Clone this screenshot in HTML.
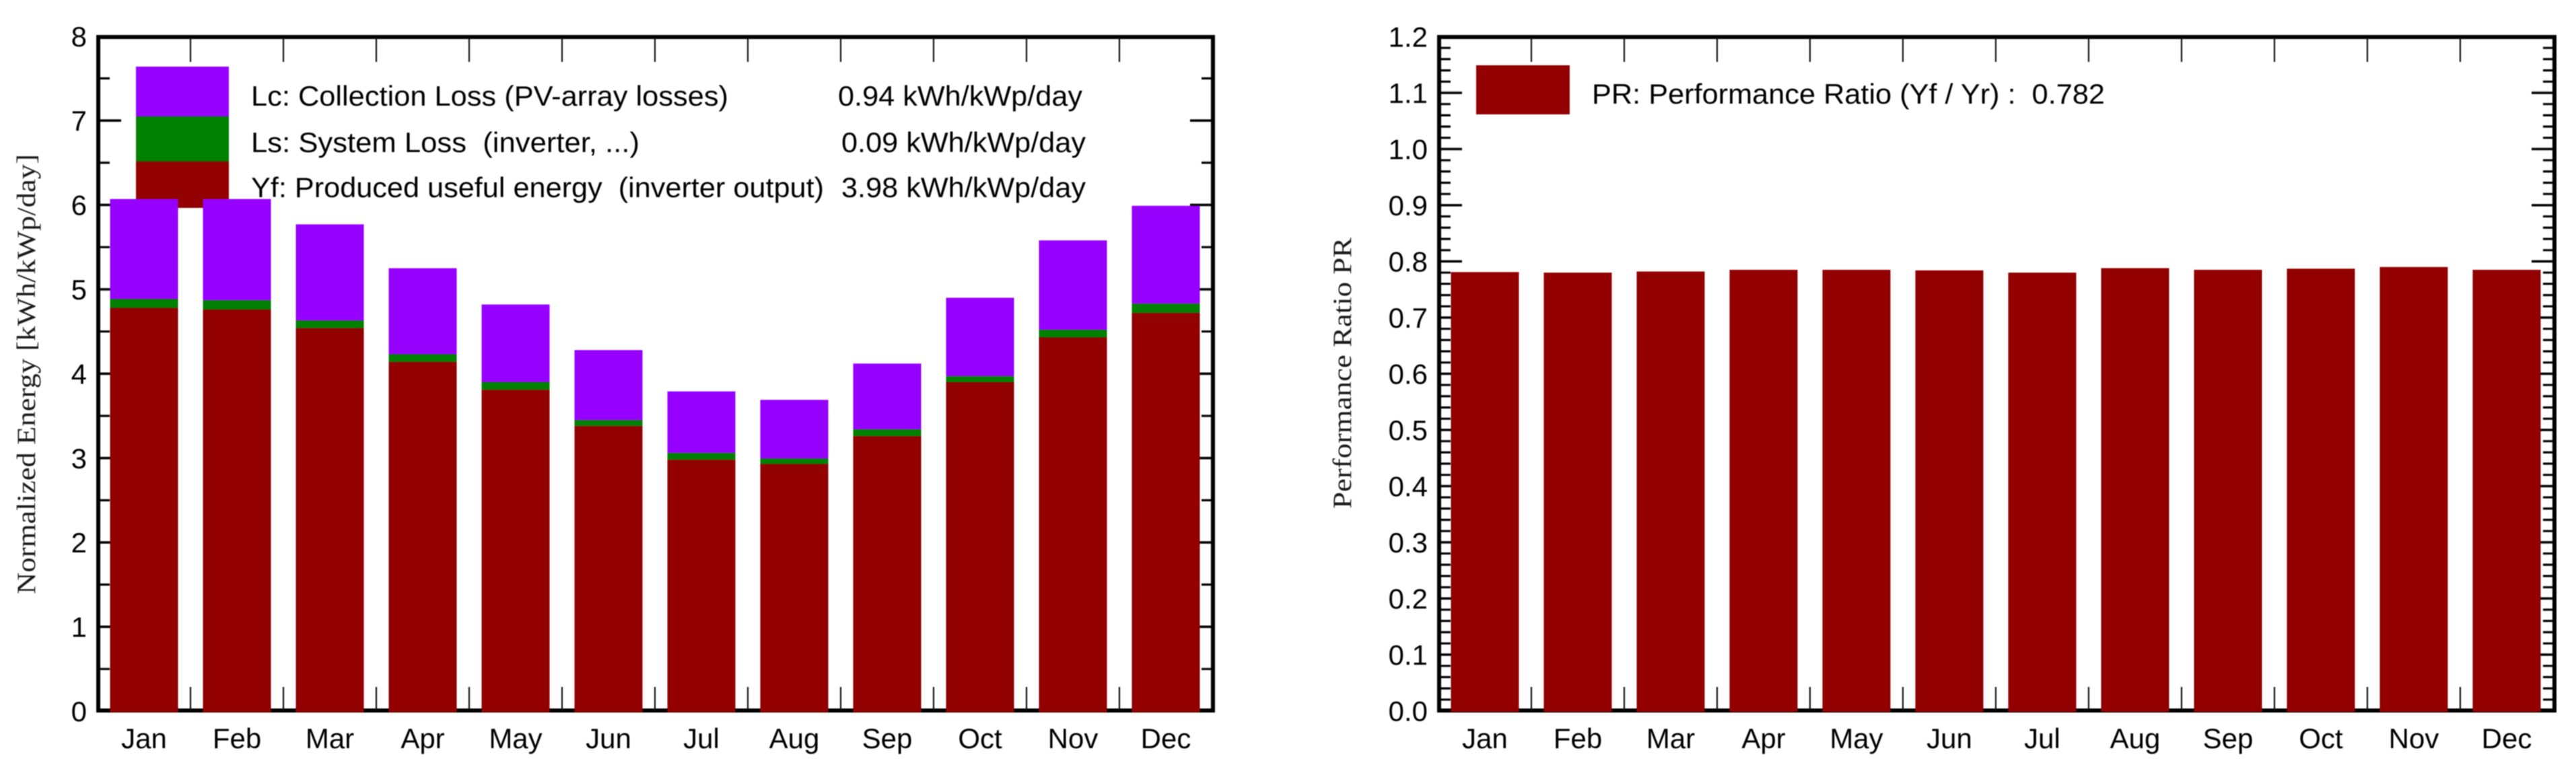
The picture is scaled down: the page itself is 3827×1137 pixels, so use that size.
<!DOCTYPE html>
<html lang="en">
<head>
<meta charset="utf-8">
<title>Normalized Energy and Performance Ratio</title>
<style>
html,body{margin:0;padding:0;background:#fff;width:3827px;height:1137px;overflow:hidden}
svg{display:block;filter:blur(0.7px)}
text{font-family:"Liberation Sans",Arial,sans-serif;fill:#000}
.serif{font-family:"Liberation Serif","Times New Roman",serif;fill:#1a1a1a}
</style>
</head>
<body>
<svg id="chart" xmlns="http://www.w3.org/2000/svg" width="3827" height="1137" viewBox="0 0 3827 1137">
  <rect x="0" y="0" width="3827" height="1137" fill="#fff"/>

  <g id="left-chart">
    <text class="serif" transform="translate(52,883) rotate(-90)" font-size="39" textLength="654" lengthAdjust="spacingAndGlyphs">Normalized Energy [kWh/kWp/day]</text>
    <g id="left-axes"></g>
    <g>
      <rect x="202" y="99" width="138" height="75" fill="#9600ff"/>
      <rect x="202" y="173" width="138" height="68" fill="#008000"/>
      <rect x="202" y="240" width="138" height="69" fill="#930000"/>
      <text x="373" y="157" font-size="42" textLength="709" lengthAdjust="spacingAndGlyphs">Lc: Collection Loss (PV-array losses)</text>
      <text x="1245" y="157" font-size="42" textLength="363" lengthAdjust="spacingAndGlyphs">0.94 kWh/kWp/day</text>
      <text x="373" y="226" font-size="42" textLength="577" lengthAdjust="spacingAndGlyphs" xml:space="preserve">Ls: System Loss  (inverter, ...)</text>
      <text x="1250" y="226" font-size="42" textLength="363" lengthAdjust="spacingAndGlyphs">0.09 kWh/kWp/day</text>
      <text x="373" y="293" font-size="42" textLength="851" lengthAdjust="spacingAndGlyphs" xml:space="preserve">Yf: Produced useful energy  (inverter output)</text>
      <text x="1250" y="293" font-size="42" textLength="363" lengthAdjust="spacingAndGlyphs">3.98 kWh/kWp/day</text>
    </g>
    <g id="left-bars"></g>
    <g id="left-labels"></g>
  </g>

  <g id="right-chart">
    <text class="serif" transform="translate(2007,756) rotate(-90)" font-size="39" textLength="403" lengthAdjust="spacingAndGlyphs">Performance Ratio PR</text>
    <g id="right-axes"></g>
    <g>
      <rect x="2193" y="97" width="139" height="73" fill="#930000"/>
      <text x="2365" y="154" font-size="42" textLength="762" lengthAdjust="spacingAndGlyphs" xml:space="preserve">PR: Performance Ratio (Yf / Yr) :  0.782</text>
    </g>
    <g id="right-bars"></g>
    <g id="right-labels"></g>
  </g>
</svg>

<script>
const categories = ['Jan','Feb','Mar','Apr','May','Jun','Jul','Aug','Sep','Oct','Nov','Dec'];
const yfValues = [4.78,4.76,4.54,4.14,3.81,3.38,2.98,2.93,3.26,3.90,4.43,4.72];
const lsValues = [0.105,0.11,0.09,0.09,0.09,0.07,0.08,0.065,0.08,0.07,0.09,0.11];
const lcValues = [1.185,1.20,1.14,1.02,0.92,0.83,0.73,0.695,0.78,0.93,1.06,1.16];
const prValues = [0.781,0.780,0.782,0.785,0.785,0.784,0.780,0.788,0.785,0.787,0.790,0.785];
const energyTickLabels = ['0','1','2','3','4','5','6','7','8'];
const prTickLabels = ['0.0','0.1','0.2','0.3','0.4','0.5','0.6','0.7','0.8','0.9','1.0','1.1','1.2'];

const NS = 'http://www.w3.org/2000/svg';

function make(tag, attrs, parent) {
  const el = document.createElementNS(NS, tag);
  for (const k in attrs) el.setAttribute(k, attrs[k]);
  parent.appendChild(el);
  return el;
}

const energyPanel = {left:146, right:1802, top:55, bottom:1056, base:1057, unit:125.4, bandStart:145, band:138};
const prPanel = {left:2138, right:3795, top:55, bottom:1056, base:1056.5, unit:835, bandStart:2137, band:138};

function yScale(panel, v) { return panel.base - v * panel.unit; }
function xCenter(panel, i) { return panel.bandStart + panel.band * (i + 0.5); }
function xEdge(panel, i) { return panel.bandStart + panel.band * i; }

const BAR_WIDTH = 101;

function drawAxes(panel, group, tickLabels, minorPerMajor, majorStep, labelGroup, prefix) {
  const frame = make('rect', {x:panel.left, y:panel.top, width:panel.right-panel.left, height:panel.bottom-panel.top, fill:'none', stroke:'#000', 'stroke-width':6}, group);
  
  

  for (let i = 1; i < categories.length; i++) {
    const x = xEdge(panel, i);
    const top = make('line', {x1:x, x2:x, y1:panel.top, y2:92, stroke:'#111', 'stroke-width':2.2}, group);
    
    
    const bottom = make('line', {x1:x, x2:x, y1:1021, y2:panel.bottom, stroke:'#111', 'stroke-width':2.2}, group);
    
    
  }

  const lastMajor = tickLabels.length - 1;
  for (let m = 0; m <= lastMajor * minorPerMajor; m++) {
    const isMajor = m % minorPerMajor === 0;
    const v = (m / minorPerMajor) * majorStep;
    const y = yScale(panel, v);
    const len = isMajor ? 34 : 17;
    const w = isMajor ? 3.6 : 3.2;
    const l = make('line', {x1:panel.left, x2:panel.left+len, y1:y, y2:y, stroke:'#000', 'stroke-width':w}, group);
    
    
    const r = make('line', {x1:panel.right-len, x2:panel.right, y1:y, y2:y, stroke:'#000', 'stroke-width':w}, group);
    
    
  }

  tickLabels.forEach((label, i) => {
    const t = make('text', {x:panel.left-17, y:yScale(panel, i*majorStep)+15, 'font-size':42, 'text-anchor':'end'}, labelGroup);
    t.textContent = label;
    
    
  });

  categories.forEach((label, i) => {
    const t = make('text', {x:xCenter(panel, i), y:1112, 'font-size':42, 'text-anchor':'middle'}, labelGroup);
    t.textContent = label;
    
    
  });
}

function drawSegment(panel, group, i, from, to, color) {
  const bottomY = from === 0 ? yScale(panel, 0) + 1.5 : yScale(panel, from);
  const topY = yScale(panel, to);
  return make('rect', {x:xCenter(panel, i)-BAR_WIDTH/2, y:topY, width:BAR_WIDTH, height:bottomY-topY, fill:color}, group);
}

const leftAxes = document.getElementById('left-axes');
const leftBars = document.getElementById('left-bars');
const leftLabels = document.getElementById('left-labels');
const rightAxes = document.getElementById('right-axes');
const rightBars = document.getElementById('right-bars');
const rightLabels = document.getElementById('right-labels');

drawAxes(energyPanel, leftAxes, energyTickLabels, 2, 1, leftLabels, 'energy');
drawAxes(prPanel, rightAxes, prTickLabels, 5, 0.1, rightLabels, 'pr');

categories.forEach((month, i) => {
  const key = month.toLowerCase();
  const yfTop = yfValues[i];
  const lsTop = yfTop + lsValues[i];
  const lcTop = lsTop + lcValues[i];

  const lc = drawSegment(energyPanel, leftBars, i, lsTop, lcTop, '#9600ff');
  
  

  const ls = drawSegment(energyPanel, leftBars, i, yfTop, lsTop, '#008000');
  
  

  const yf = drawSegment(energyPanel, leftBars, i, 0, yfTop, '#930000');
  
  

  const pr = drawSegment(prPanel, rightBars, i, 0, prValues[i], '#930000');
  
  
});
</script>
</body>
</html>
